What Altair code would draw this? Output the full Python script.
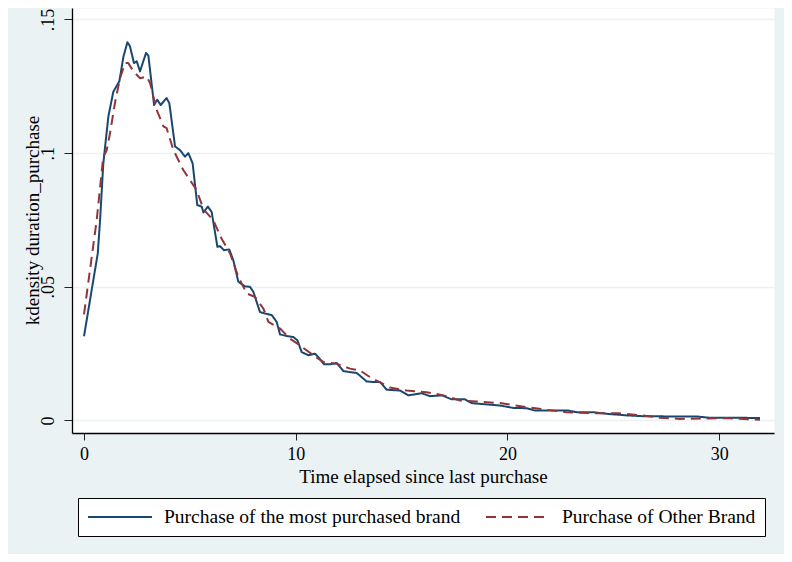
import altair as alt
import pandas as pd

# ---- data ----
series_names = ["Purchase of the most purchased brand", "Purchase of Other Brand"]

main_x = [0, 0.65, 0.76, 0.91, 1.15, 1.385, 1.67, 1.86, 2.05, 2.17, 2.36, 2.49, 2.645,
          2.93, 3.04, 3.31, 3.46, 3.62, 3.9, 4.03, 4.3, 4.53, 4.77, 4.93, 5.13, 5.35,
          5.56, 5.64, 5.85, 6.03, 6.3, 6.43, 6.61, 6.86, 7.05, 7.29, 7.6, 7.84, 8.0,
          8.31, 8.55, 8.87, 9.1, 9.26, 9.57, 9.89, 10.08, 10.28, 10.6, 10.91, 11.07,
          11.34, 11.62, 11.94, 12.25, 12.56, 12.88, 13.35, 13.67, 13.98, 14.3, 14.93,
          15.32, 15.95, 16.34, 16.9, 17.37, 18.0, 18.31, 19.18, 19.65, 20.28, 20.91,
          21.3, 22.17, 22.88, 23.27, 24.06, 24.69, 25.64, 26.42, 28.0, 28.94, 29.57,
          31.14, 31.93]
main_y = [0.0315, 0.0625, 0.075, 0.096, 0.1137, 0.123, 0.1269, 0.136, 0.1415, 0.140,
          0.1337, 0.1344, 0.1306, 0.1375, 0.1365, 0.118, 0.120, 0.118, 0.1206, 0.1187,
          0.1025, 0.1012, 0.0987, 0.100, 0.0962, 0.0806, 0.080, 0.0778, 0.080, 0.078,
          0.065, 0.0652, 0.0637, 0.064, 0.060, 0.0519, 0.0502, 0.050, 0.0481, 0.0406,
          0.040, 0.0394, 0.0369, 0.0322, 0.0316, 0.0312, 0.030, 0.0256, 0.0244, 0.025,
          0.0237, 0.021, 0.021, 0.0215, 0.0185, 0.0181, 0.0178, 0.0146, 0.0144, 0.0144,
          0.0115, 0.0112, 0.0094, 0.0102, 0.0091, 0.0094, 0.0079, 0.0079, 0.0065,
          0.0059, 0.0056, 0.0047, 0.0046, 0.0037, 0.0037, 0.0037, 0.0031, 0.0031,
          0.0025, 0.0019, 0.0016, 0.0015, 0.0015, 0.001, 0.001, 0.0009]

other_x = [0, 0.6, 0.91, 1.07, 1.23, 1.46, 1.7, 1.94, 2.09, 2.33, 2.65, 2.96, 3.12, 3.43,
           3.75, 3.9, 4.22, 4.69, 5.0, 5.32, 5.64, 6.1, 6.5, 6.9, 7.29, 7.69, 8.08, 8.47,
           8.71, 9.26, 9.73, 10.2, 10.83, 11.3, 11.94, 12.56, 13.04, 13.51, 14.45, 15.24,
           16.18, 16.97, 17.76, 18.55, 19.65, 20.91, 21.85, 22.8, 24.06, 25.2, 26.4,
           27.2, 28.15, 30.35, 31.93]
other_y = [0.0397, 0.075, 0.0987, 0.101, 0.1075, 0.1187, 0.128, 0.1337, 0.1337, 0.1306,
           0.128, 0.1287, 0.1262, 0.1162, 0.110, 0.1094, 0.1012, 0.0937, 0.090, 0.0862,
           0.079, 0.075, 0.068, 0.0625, 0.0537, 0.0475, 0.0462, 0.0419, 0.0369, 0.0344,
           0.0306, 0.0281, 0.0244, 0.0219, 0.0212, 0.0194, 0.0187, 0.0162, 0.0123,
           0.0112, 0.0106, 0.0094, 0.0075, 0.0071, 0.0065, 0.005, 0.004, 0.0031, 0.0027,
           0.0027, 0.0019, 0.001, 0.0006, 0.0009, 0.0003]

x_ticks = [0, 10, 20, 30]
y_ticks = [0, 0.05, 0.1, 0.15]

line_colors = ["#1a476f", "#90353b"]
line_dashes = [[1, 0], [10, 6]]

rows = [{"series": series_names[0], "t": a, "d": b} for a, b in zip(main_x, main_y)]
rows += [{"series": series_names[1], "t": a, "d": b} for a, b in zip(other_x, other_y)]
df = pd.DataFrame(rows)

FONT = "Liberation Serif"

leg = alt.Legend(
    title=None, orient="none", legendX=6, legendY=490, direction="horizontal",
    symbolType="stroke", symbolSize=4096, symbolStrokeWidth=2, clipHeight=20,
    labelFont=FONT, labelFontSize=19.5, labelColor="black", labelOffset=11,
    symbolOffset=0, columnPadding=24, padding=9, fillColor="white",
    strokeColor="black", labelLimit=400,
)

x_enc = alt.X(
    "t:Q",
    scale=alt.Scale(domain=[-0.567, 32.59], nice=False, zero=False),
    axis=alt.Axis(
        title="Time elapsed since last purchase", values=x_ticks, format="d",
        grid=False, domainColor="black", domainWidth=1.3, tickColor="#222",
        tickSize=7, tickWidth=1, labelFont=FONT, labelFontSize=18,
        labelColor="black", labelPadding=19, labelBaseline="alphabetic",
        labelFlush=False, titleFont=FONT, titleFontSize=19, titleFontWeight="normal",
        titleColor="black", titleX=351, titleY=49, titleBaseline="alphabetic",
        titleAlign="center",
    ),
)

y_enc = alt.Y(
    "d:Q",
    scale=alt.Scale(domain=[-0.00468, 0.1543], nice=False, zero=False),
    axis=alt.Axis(
        title="kdensity duration_purchase", values=y_ticks,
        labelExpr="datum.value == 0 ? '0' : replace(format(datum.value, '.2~f'), '0.', '.')",
        grid=True, gridColor="#eaf2f3", gridWidth=1.5,
        domainColor="black", domainWidth=1.3, tickColor="#222", tickSize=8,
        tickWidth=1, labelFont=FONT, labelFontSize=18, labelColor="black",
        labelAngle=270, labelAlign="center", labelBaseline="alphabetic",
        labelPadding=11, labelFlush=False,
        titleFont=FONT, titleFontSize=19, titleFontWeight="normal",
        titleColor="black", titleX=-34, titleY=212, titleAngle=270,
        titleBaseline="alphabetic", titleAlign="center",
    ),
)

chart = (
    alt.Chart(df)
    .mark_line(strokeWidth=2, strokeJoin="round")
    .encode(
        x=x_enc,
        y=y_enc,
        color=alt.Color("series:N", scale=alt.Scale(domain=series_names, range=line_colors), legend=leg),
        strokeDash=alt.StrokeDash("series:N", scale=alt.Scale(domain=series_names, range=line_dashes), legend=leg),
    )
    .properties(
        width=702, height=425, background="#eaf2f3",
        padding={"left": 64, "top": 0, "right": 10, "bottom": 121},
        autosize=alt.AutoSizeParams(type="none"),
    )
    .configure_view(fill="white", stroke="transparent")
)

chart.save("out.html", embed_options={"renderer": "svg", "actions": False})
